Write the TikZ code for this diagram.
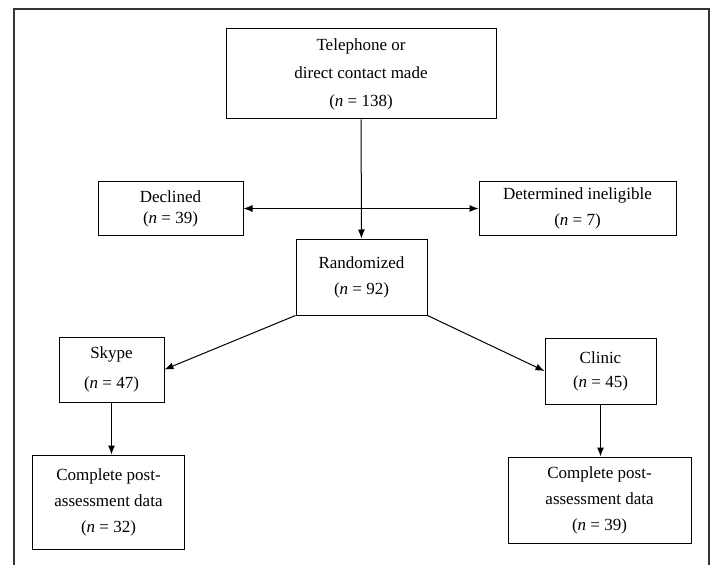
\documentclass[tikz,border=0pt]{standalone}
\usepackage{fontspec}
\setmainfont{Liberation Serif}
\usetikzlibrary{arrows.meta}

\begin{document}
\begin{tikzpicture}[
            x=1bp, y=-1bp,
            every node/.style={font=\fontsize{17bp}{26bp}\selectfont},
            box/.style={rectangle, draw, line width=1bp, align=center, inner sep=0pt},
            arrow/.style={->, >={Latex[length=9bp, width=7bp]}, line width=1bp},
            frame/.style={draw=black!80, line width=1.4pt}
        ]

        \useasboundingbox (0,0) rectangle (714,565);

        % Outer frame (open at the bottom)
        \draw[frame] (14,570) -- (14,9) -- (709,9) -- (709,570);

        % Nodes
        \node[box, minimum width=270bp, minimum height=90bp] (contact) at (361,74)
            {Telephone or\\[2bp] direct contact made\\[2bp] (\textit{n} = 138)};

        \node[box, minimum width=145bp, minimum height=53bp, font=\fontsize{17bp}{21bp}\selectfont] (declined) at (170.5,208.5)
            {Declined\\ (\textit{n} = 39)};
        \node[box, minimum width=197bp, minimum height=53bp] (inelig) at (577.5,208.5)
            {Determined ineligible\\ (\textit{n} = 7)};

        \node[box, minimum width=131bp, minimum height=76bp] (random) at (361.5,277)
            {Randomized\\ (\textit{n} = 92)};

        \node[box, minimum width=105bp, minimum height=65bp, font=\fontsize{17bp}{30bp}\selectfont] (skype) at (111.5,369.5)
            {Skype\\ (\textit{n} = 47)};
        \node[box, minimum width=111bp, minimum height=66bp, font=\fontsize{17bp}{24bp}\selectfont] (clinic) at (600.5,371)
            {Clinic\\ (\textit{n} = 45)};

        \node[box, minimum width=151bp, minimum height=94bp] (doneL) at (108.5,502)
            {Complete post-\\ assessment data\\ (\textit{n} = 32)};
        \node[box, minimum width=183bp, minimum height=86bp] (doneR) at (599.5,500)
            {Complete post-\\ assessment data\\ (\textit{n} = 39)};

        % === EDGES ===
        \draw[arrow] (contact) -- (random);
        \draw[arrow, <->] (declined) -- (inelig);

        \draw[arrow] (random.south west) -- (skype.east);
        \draw[arrow] (random.south east) -- (clinic.west);

        \draw[arrow] (skype.south) -- (skype.south |- doneL.north);
        \draw[arrow] (clinic.south) -- (clinic.south |- doneR.north);

    \end{tikzpicture}
\end{document}
